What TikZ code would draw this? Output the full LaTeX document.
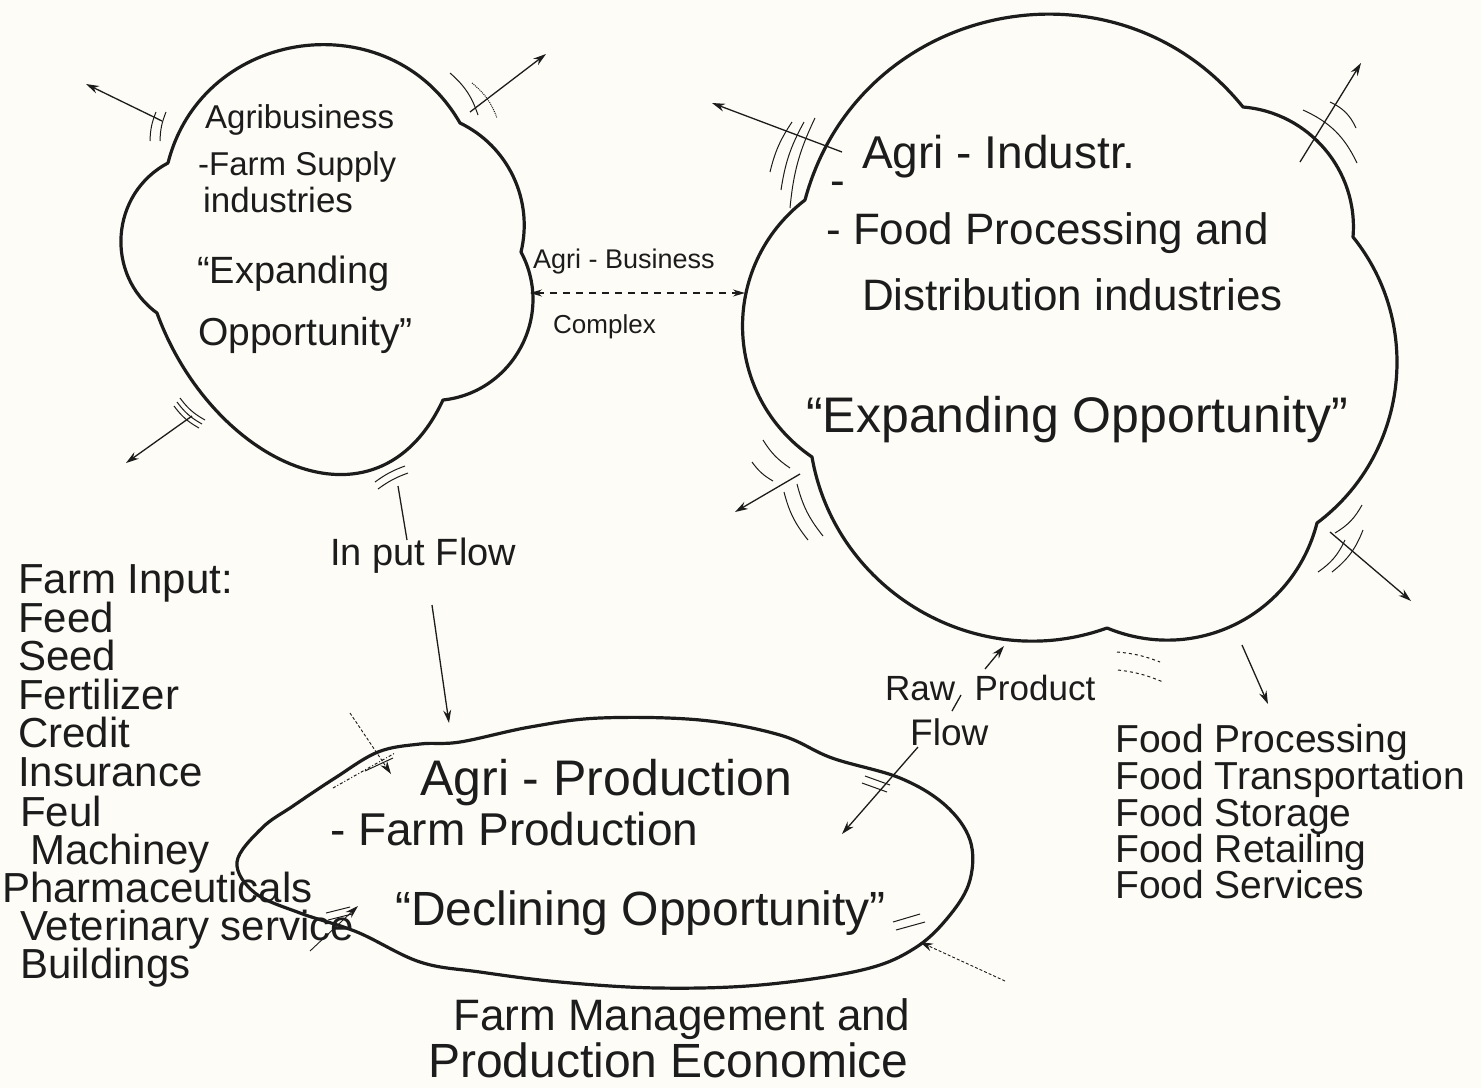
\documentclass[tikz,border=0pt]{standalone}
\usepackage{fontspec}
\setmainfont{Liberation Sans}
\usetikzlibrary{arrows.meta}
\definecolor{paper}{RGB}{253,252,246}
\definecolor{ink}{RGB}{28,28,28}
\newcommand\fsz[1]{\fontsize{#1}{#1}\selectfont}
\begin{document}
\begin{tikzpicture}[x=1pt,y=-1pt,
  cloud/.style={draw=ink, line width=3.2pt, line join=round, line cap=round},
  arr/.style={draw=ink, line width=1.3pt, -{Stealth[length=13pt,width=8pt]}},
  darr/.style={draw=ink, line width=1.3pt, dashed, dash pattern=on 7pt off 6pt, {Stealth[length=12pt,width=7pt]}-{Stealth[length=12pt,width=7pt]}},
  hatch/.style={draw=ink, line width=1pt},
  txt/.style={anchor=base west, inner sep=0pt, text=ink},
]
\fill[paper] (0,0) rectangle (1481,1088);
\useasboundingbox (0,0) rectangle (1481,1088);

% ---------- cloud 1 (Agribusiness) ----------
\coordinate (a1) at (168,163);
\coordinate (b1) at (460,123);
\coordinate (c1) at (521,252);
\coordinate (d1) at (443,400);
\coordinate (e1) at (157,313);
\draw[cloud] (a1) to[bend left=68,looseness=1.22] (b1)
  to[bend left=39,looseness=0.96] (c1)
  to[bend left=56,looseness=1.09] (d1)
  to[out=245,in=290,looseness=1.35] (e1)
  to[bend left=58,looseness=1.11] (a1);

% ---------- cloud 2 (Agri-Industry) ----------
\coordinate (n1) at (805,200);
\coordinate (n2) at (1243,107);
\coordinate (n3) at (1353,237);
\coordinate (n4) at (1317,523);
\coordinate (n5) at (1107,628);
\coordinate (n6) at (812,457);
\draw[cloud] (n1) to[bend left=63,looseness=1.17] (n2)
  to[bend left=45,looseness=1.0] (n3)
  to[bend left=46,looseness=1.0] (n4)
  to[bend left=49,looseness=1.04] (n5)
  to[bend left=50,looseness=1.03] (n6)
  to[bend left=54,looseness=1.08] (n1);

% ---------- ellipse (Agri-Production) ----------
\draw[cloud] plot[smooth cycle, tension=0.6] coordinates {
  (237,862) (262,828) (293,806) (335,778) (378,752) (420,744) (460,742)
  (530,727) (600,718) (700,720) (780,735) (832,758) (900,778) (945,805)
  (970,840) (970,880) (950,915) (915,948) (862,970) (760,985) (658,988)
  (560,982) (480,972) (420,962) (357,932) (300,913) (255,893)};

% ---------- texts ----------
\node[txt,font=\fsz{33}] (c1a) at (205,128) {Agribusiness};
\node[txt,font=\fsz{33}] (c1b) at (198,175) {-Farm Supply};
\node[txt,font=\fsz{35}] (c1c) at (203,212) {industries};
\node[txt,font=\fsz{38}] (c1d) at (197,283) {“Expanding};
\node[txt,font=\fsz{39}] (c1e) at (198,345) {Opportunity”};

\node[txt,font=\fsz{27}] (abz) at (533,268) {Agri - Business};
\node[txt,font=\fsz{26}] (cpx) at (553,333) {Complex};

\node[txt,font=\fsz{46}] (c2a) at (862,168) {Agri - Industr.};
\node[txt,font=\fsz{44}] (c2b) at (830,195) {-};
\node[txt,font=\fsz{44}] (c2c) at (826,244) {- Food Processing and};
\node[txt,font=\fsz{44}] (c2d) at (862,310) {Distribution industries};
\node[txt,font=\fsz{50}] (c2e) at (806,432) {“Expanding Opportunity”};

\node[txt,font=\fsz{38}] (inf) at (330,565) {In put Flow};

\node[txt,font=\fsz{42}] (fi0) at (18,593) {Farm Input:};
\node[txt,font=\fsz{42}] (fi1) at (18,632) {Feed};
\node[txt,font=\fsz{42}] (fi2) at (18,670) {Seed};
\node[txt,font=\fsz{42}] (fi3) at (18,709) {Fertilizer};
\node[txt,font=\fsz{42}] (fi4) at (18,747) {Credit};
\node[txt,font=\fsz{42}] (fi5) at (18,786) {Insurance};
\node[txt,font=\fsz{42}] (fi6) at (20,826) {Feul};
\node[txt,font=\fsz{42}] (fi7) at (30,864) {Machiney};
\node[txt,font=\fsz{42}] (fi8) at (2,902) {Pharmaceuticals};
\node[txt,font=\fsz{42}] (fi9) at (20,940) {Veterinary service};
\node[txt,font=\fsz{42}] (fi10) at (20,978) {Buildings};

\node[txt,font=\fsz{50}] (p1) at (420,795) {Agri - Production};
\node[txt,font=\fsz{46}] (p2) at (330,845) {- Farm Production};
\node[txt,font=\fsz{48}] (p3) at (395,925) {“Declining Opportunity”};
\node[txt,font=\fsz{44}] (fm1) at (453,1030) {Farm Management and};
\node[txt,font=\fsz{48}] (fm2) at (428,1077) {Production Economice};

\node[txt,font=\fsz{35}] (rp1) at (885,700) {Raw \ Product};
\node[txt,font=\fsz{37}] (rp2) at (910,745) {Flow};

\node[txt,font=\fsz{39}] (fd1) at (1115,752) {Food Processing};
\node[txt,font=\fsz{39}] (fd2) at (1115,789) {Food Transportation};
\node[txt,font=\fsz{39}] (fd3) at (1115,826) {Food Storage};
\node[txt,font=\fsz{39}] (fd4) at (1115,862) {Food Retailing};
\node[txt,font=\fsz{39}] (fd5) at (1115,898) {Food Services};

% ---------- cloud 1 arrows ----------
\coordinate (q1s) at (162,121); \coordinate (q1e) at (86,84);
\draw[arr] (q1s) -- (q1e);
\draw[hatch] (150,141) to[bend left=10] (156,112);
\draw[hatch] (160,141) to[bend left=10] (166,112);

\coordinate (q2s) at (470,112); \coordinate (q2e) at (546,54);
\draw[arr] (q2s) -- (q2e);
\draw[hatch] (450,73) to[bend left=15] (478,115);
\draw[hatch,densely dotted] (472,83) to[bend left=15] (497,118);

\coordinate (q3s) at (192,416); \coordinate (q3e) at (126,463);
\draw[arr] (q3s) -- (q3e);
\foreach \k in {0,1,2}
  \draw[hatch] ({180-3*\k},{398+4*\k}) to[bend right=12] ++(25,22);

% input flow
\draw[hatch] (375,482) to[bend left=8] (405,466);
\draw[hatch] (378,489) to[bend left=8] (408,473);
\coordinate (ifs) at (398,486); \coordinate (ife) at (407,540);
\draw[hatch,line width=1.3pt] (ifs) -- (ife);
\coordinate (ia1) at (432,605); \coordinate (ia2) at (449,723);
\draw[arr] (ia1) -- (ia2);

% agri-business complex
\coordinate (abl) at (530,293); \coordinate (abr) at (745,293);
\draw[darr] (abl) -- (abr);

% ---------- cloud 2 arrows ----------
\coordinate (r1s) at (842,152); \coordinate (r1e) at (712,103);
\draw[arr] (r1s) -- (r1e);
\draw[hatch] (770,172) to[bend left=10] (792,122);
\draw[hatch] (781,190) to[bend left=10] (804,122);
\draw[hatch] (790,208) to[bend left=10] (815,118);

\coordinate (r2s) at (1300,162); \coordinate (r2e) at (1361,63);
\draw[arr] (r2s) -- (r2e);
\draw[hatch] (1303,110) to[bend left=20] (1357,163);
\draw[hatch] (1330,102) to[bend left=20] (1356,128);

\coordinate (r3s) at (800,474); \coordinate (r3e) at (735,512);
\draw[arr] (r3s) -- (r3e);
\draw[hatch] (752,462) to[bend right=12] (773,481);
\draw[hatch] (763,440) to[bend right=12] (790,468);
\draw[hatch] (784,492) to[bend right=12] (808,540);
\draw[hatch] (797,484) to[bend right=12] (823,536);

\coordinate (r4s) at (1330,532); \coordinate (r4e) at (1411,601);
\draw[arr] (r4s) -- (r4e);
\draw[hatch] (1362,505) to[bend left=15] (1335,533);
\draw[hatch] (1363,530) to[bend left=15] (1332,572);
\draw[hatch] (1345,540) to[bend left=15] (1318,572);

\draw[hatch,dashed] (1117,652) to[bend left=8] (1160,662);
\draw[hatch,dashed] (1118,670) to[bend left=8] (1163,682);

% raw product flow
\coordinate (w1s) at (985,669); \coordinate (w1e) at (1004,646);
\draw[arr] (w1s) -- (w1e);
\coordinate (w2s) at (961,695); \coordinate (w2e) at (952,711);
\draw[hatch,line width=1.3pt] (w2s) -- (w2e);
\coordinate (w3s) at (918,747); \coordinate (w3e) at (842,834);
\draw[arr] (w3s) -- (w3e);
\draw[hatch] (865,776) -- (890,785);
\draw[hatch] (862,783) -- (887,792);

% food arrow
\coordinate (fds) at (1242,645); \coordinate (fde) at (1268,704);
\draw[arr] (fds) -- (fde);

% ---------- ellipse arrows ----------
\coordinate (e1s) at (350,713); \coordinate (e1e) at (391,774);
\draw[arr,line width=0.9pt,densely dashed] (e1s) -- (e1e);
\draw[hatch,dash dot] (333,788) -- (395,753);
\draw[hatch] (365,771) -- (393,758);

\coordinate (e2s) at (310,951); \coordinate (e2e) at (358,906);
\draw[arr,line width=0.9pt] (e2s) -- (e2e);
\draw[hatch] (326,913) -- (350,907);
\draw[hatch] (328,920) -- (352,914);

\coordinate (e3s) at (1005,981); \coordinate (e3e) at (920,942);
\draw[arr,line width=0.9pt,densely dashed] (e3s) -- (e3e);
\draw[hatch] (893,922) -- (920,914);
\draw[hatch] (896,930) -- (925,922);
\end{tikzpicture}
\end{document}
